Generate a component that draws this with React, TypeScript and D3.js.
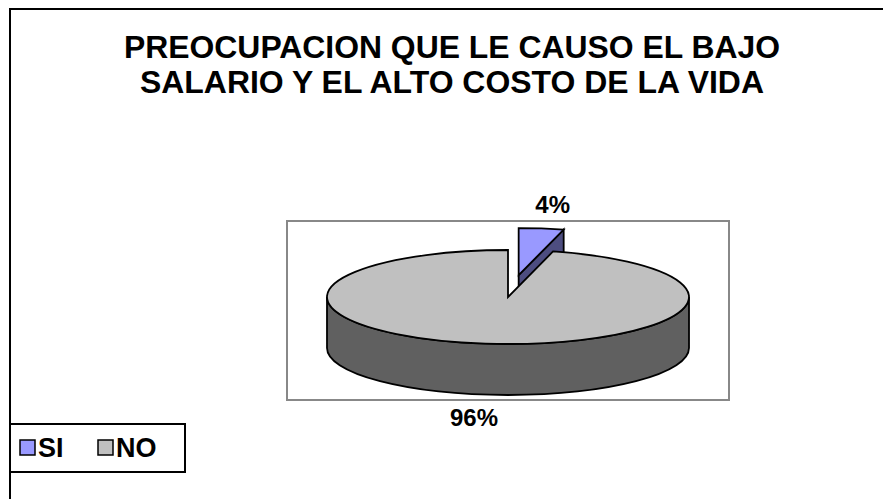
import React from 'react'
import * as d3 from 'd3'

const categories = ['SI', 'NO']
const values = [4, 96]
const labels = ['4%', '96%']
const topColors = ['#9999FF', '#C0C0C0']
const sideColors = ['#4D4D80', '#606060']
const titleLines = ['PREOCUPACION QUE LE CAUSO EL BAJO', 'SALARIO Y EL ALTO COSTO DE LA VIDA']

const W = 883
const H = 499
const font = 'Arial, "Liberation Sans", sans-serif'

// 3d pie geometry
const cx = 508
const cy = 297
const rx = 181
const ry = 47
const depth = 51
const explode = [0.47, 0]

const pt = (a: number, ox: number, oy: number, dy = 0): [number, number] => [
  ox + rx * Math.sin(a),
  oy - ry * Math.cos(a) + dy,
]

const App = () => {
  const arcs = d3.pie<number>().sort(null)(values)

  const slices = arcs.map((d, i) => {
    const mid = (d.startAngle + d.endAngle) / 2
    const ox = cx + explode[i] * rx * Math.sin(mid)
    const oy = cy - explode[i] * ry * Math.cos(mid)
    const p0 = pt(d.startAngle, ox, oy)
    const p1 = pt(d.endAngle, ox, oy)
    const large = d.endAngle - d.startAngle > Math.PI ? 1 : 0

    const top = d3.path()
    top.moveTo(ox, oy)
    top.lineTo(p0[0], p0[1])
    const topD = `${top.toString()} A ${rx} ${ry} 0 ${large} 1 ${p1[0]} ${p1[1]} Z`

    // front outer wall (visible between 90 and 270 degrees)
    let wallD: string | null = null
    const a0 = Math.max(d.startAngle, Math.PI / 2)
    const a1 = Math.min(d.endAngle, (3 * Math.PI) / 2)
    if (a1 > a0) {
      const w0 = pt(a0, ox, oy)
      const w1 = pt(a1, ox, oy)
      const b1 = pt(a1, ox, oy, depth)
      const b0 = pt(a0, ox, oy, depth)
      wallD = `M ${w0[0]} ${w0[1]} A ${rx} ${ry} 0 0 1 ${w1[0]} ${w1[1]} L ${b1[0]} ${b1[1]} A ${rx} ${ry} 0 0 0 ${b0[0]} ${b0[1]} Z`
    }

    // cut face at end angle, visible when it faces the viewer
    let cutD: string | null = null
    if (d.endAngle < Math.PI) {
      cutD = `M ${ox} ${oy} L ${p1[0]} ${p1[1]} L ${p1[0]} ${p1[1] + depth} L ${ox} ${oy + depth} Z`
    }

    // label position
    const front = Math.cos(mid) < 0
    const lx = ox + 1.5 * rx * Math.sin(mid)
    const ly = oy - 1.5 * ry * Math.cos(mid) + (front ? depth : 0) + 8

    return { i, topD, wallD, cutD, lx, ly }
  })

  // draw the exploded (back) slice first
  const order = [0, 1]

  return (
    <svg width={W} height={H} style={{ position: 'absolute', left: 0, top: 0, background: '#fff' }}>
      <rect x={10} y={9} width={W + 20} height={H + 20} fill="#fff" stroke="#000" strokeWidth={2} />

      <g fontFamily={font} fontWeight="bold" fontSize={31} textAnchor="middle" fill="#000">
        {titleLines.map((t, i) => (
          <text key={t} x={452} y={58 + i * 35} textLength={i === 0 ? 656 : 624} lengthAdjust="spacingAndGlyphs">
            {t}
          </text>
        ))}
      </g>

      <rect x={287} y={221} width={442} height={179} fill="none" stroke="#888" strokeWidth={2} />

      {order.map((k) => {
        const s = slices[k]
        return (
          <g key={categories[k]} stroke="#000" strokeWidth={1.8} strokeLinejoin="miter">
            {s.cutD && <path d={s.cutD} fill={sideColors[k]} />}
            {s.wallD && <path d={s.wallD} fill={sideColors[k]} />}
            <path d={s.topD} fill={topColors[k]} />
          </g>
        )
      })}

      <g fontFamily={font} fontWeight="bold" fontSize={24} textAnchor="middle">
        {slices.map((s) => (
          <text key={labels[s.i]} x={s.lx} y={s.ly}>
            {labels[s.i]}
          </text>
        ))}
      </g>

      <g>
        <rect x={10} y={424} width={175} height={48} fill="#fff" stroke="#000" strokeWidth={2} />
        {categories.map((c, i) => (
          <g key={c} transform={`translate(${20 + i * 78},0)`}>
            <rect x={0} y={440} width={15} height={15} fill={topColors[i]} stroke="#000" strokeWidth={1.5} />
            <text x={18} y={457} fontFamily={font} fontWeight="bold" fontSize={27}>
              {c}
            </text>
          </g>
        ))}
      </g>
    </svg>
  )
}

export default App
